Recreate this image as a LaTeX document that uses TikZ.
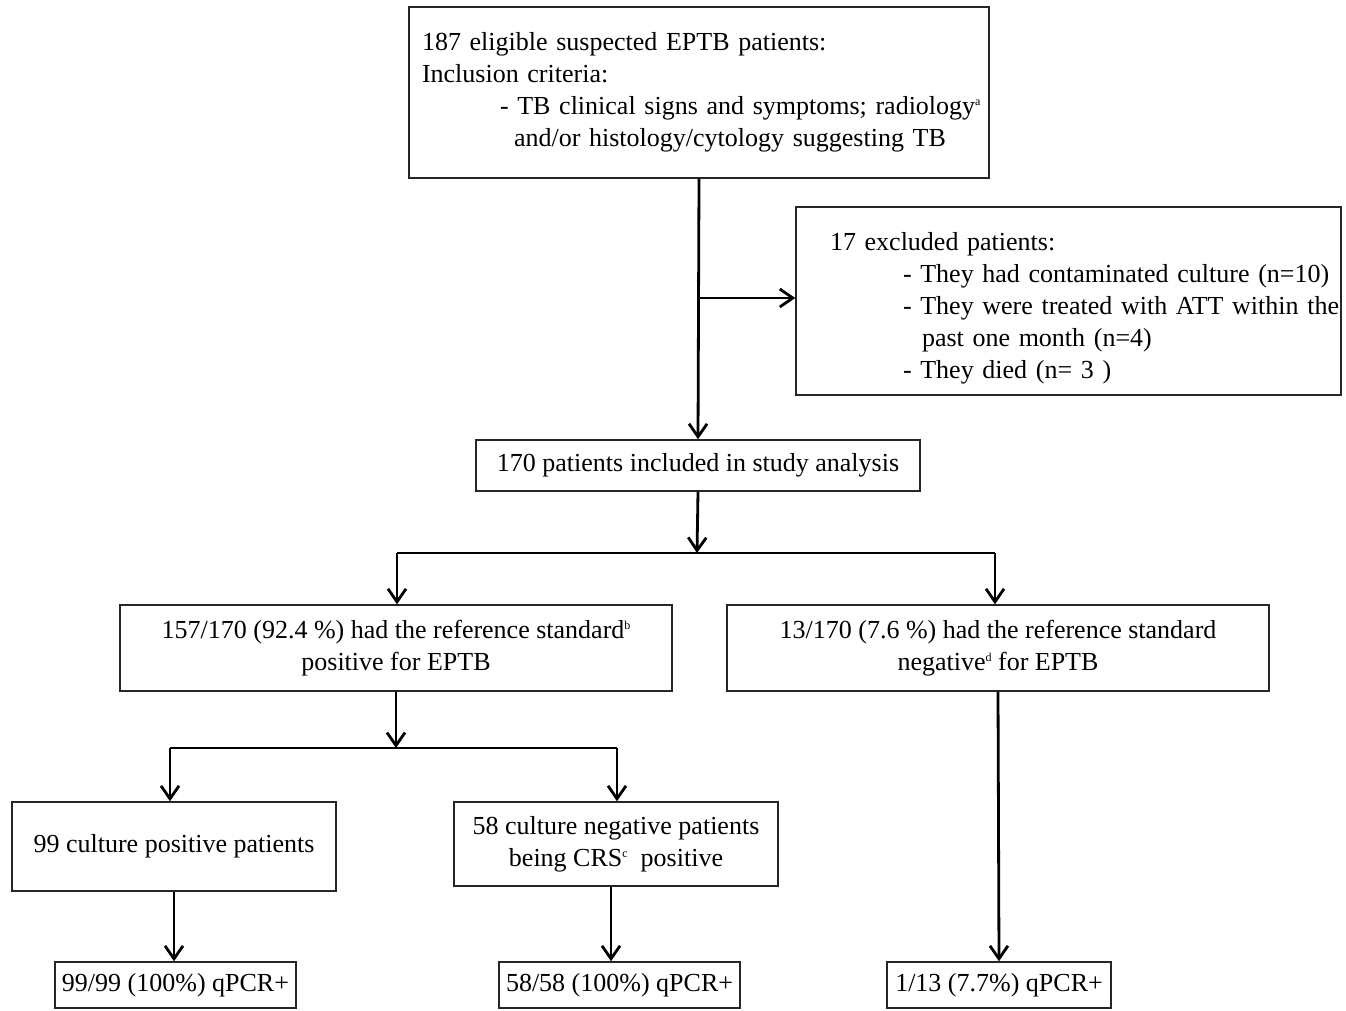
\documentclass[tikz,border=0pt]{standalone}
\usepackage{fontspec}
\setmainfont{Liberation Serif}
\usetikzlibrary{arrows.meta}
\newcommand{\supmark}[1]{\raisebox{9pt}{\fontsize{12}{12}\selectfont #1}}
\begin{document}
\begin{tikzpicture}[x=1pt, y=-1pt,
  box/.style={draw=black!85, line width=1.5pt, inner sep=0pt, align=center,
    font=\fontsize{26}{32}\selectfont},
  link/.style={line width=2.8pt},
  arr/.style={line width=2.8pt, -{Straight Barb[length=13pt, width=18pt]}}]
\useasboundingbox[fill=white] (0,0) rectangle (1346,1010);
% boxes
\node[box, minimum width=580pt, minimum height=171pt, text width=554pt, align=left] (elig) at (699,92.5)
  {\mbox{187 eligible suspected EPTB patients:}\\
   \mbox{Inclusion criteria:}\\
   \mbox{\hspace*{78pt}- TB clinical signs and symptoms; radiology\supmark{a}}\\
   \mbox{\hspace*{92pt}and/or histology/cytology suggesting TB}};
\node[box, minimum width=545pt, minimum height=188pt, text width=477pt, align=left] (excl) at (1068.5,301)
  {\mbox{\rule{0pt}{32pt}17 excluded patients:}\\
   \mbox{\hspace*{73pt}- They had contaminated culture (n=10)}\\
   \mbox{\hspace*{73pt}- They were treated with ATT within the}\\
   \mbox{\hspace*{92pt}past one month (n=4)}\\
   \mbox{\hspace*{73pt}- They died (n= 3 )}};
\node[box, minimum width=444pt, minimum height=51pt] (incl) at (698,465.5)
  {170 patients included in study analysis};
\node[box, minimum width=552pt, minimum height=86pt] (pos) at (396,648)
  {157/170 (92.4 \%) had the reference standard\supmark{b}\\ positive for EPTB};
\node[box, minimum width=542pt, minimum height=86pt] (neg) at (998,648)
  {13/170 (7.6 \%) had the reference standard\\ negative\supmark{d} for EPTB};
\node[box, minimum width=324pt, minimum height=89pt] (cpos) at (174,846.5)
  {99 culture positive patients};
\node[box, minimum width=324pt, minimum height=84pt] (cneg) at (616,844)
  {58 culture negative patients\\ being CRS\supmark{c}~ positive};
\node[box, minimum width=241pt, minimum height=46pt] (qa) at (175.5,985)
  {99/99 (100\%) qPCR+};
\node[box, minimum width=241pt, minimum height=46pt] (qb) at (619.5,985)
  {58/58 (100\%) qPCR+};
\node[box, minimum width=224pt, minimum height=46pt] (qc) at (999,985)
  {1/13 (7.7\%) qPCR+};
% branch points
\coordinate (split) at (698,298);
\coordinate (forka) at (697,553);
\coordinate (forkal) at (397,553);
\coordinate (forkar) at (995,553);
\coordinate (forkb) at (396,748);
\coordinate (forkbl) at (170,748);
\coordinate (forkbr) at (617,748);
% connectors
\draw[arr] (elig.south) -- (incl.north);
\draw[arr] (split) -- (split -| excl.west);
\draw[arr] (incl.south) -- (forka);
\draw[link] (forkal) -- (forkar);
\draw[arr] (forkal) -- (forkal |- pos.north);
\draw[arr] (forkar) -- (forkar |- neg.north);
\draw[arr] (pos.south) -- (forkb);
\draw[link] (forkbl) -- (forkbr);
\draw[arr] (forkbl) -- (forkbl |- cpos.north);
\draw[arr] (forkbr) -- (forkbr |- cneg.north);
\draw[arr] (cpos.south) -- (cpos.south |- qa.north);
\draw[arr] ([xshift=-5pt]cneg.south) -- ([xshift=-5pt]cneg.south |- qb.north);
\draw[arr] (neg.south) -- (qc.north);
\end{tikzpicture}
\end{document}
